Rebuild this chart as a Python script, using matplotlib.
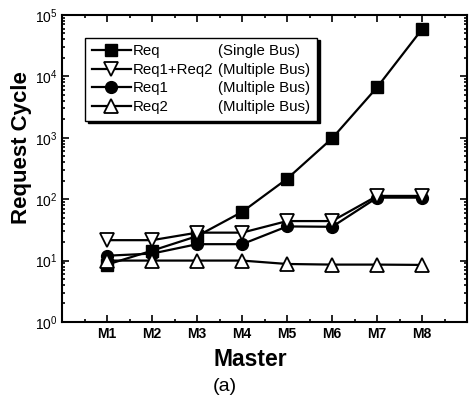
#!/usr/bin/env python3
# request cycle vs master, single bus vs multiple bus

import matplotlib
matplotlib.use("Agg")
import matplotlib.pyplot as plt
from matplotlib.lines import Line2D
from matplotlib.ticker import LogLocator, MultipleLocator, NullFormatter

plt.rcParams['font.family'] = ['Liberation Sans', 'DejaVu Sans']
plt.rcParams['mathtext.default'] = 'regular'

masters = ["M1", "M2", "M3", "M4", "M5", "M6", "M7", "M8"]
req_single = [8.6, 14.5, 25, 62, 215, 980, 6650, 59000]
req1_req2 = [21.5, 21.5, 28.5, 28.5, 44, 44, 113, 113]
req1 = [12, 13, 18.5, 18.5, 36, 35.5, 106, 106]
req2 = [10, 10, 10, 10, 8.8, 8.6, 8.6, 8.5]

names = ["Req", "Req1+Req2", "Req1", "Req2"]
buses = ["(Single Bus)", "(Multiple Bus)", "(Multiple Bus)", "(Multiple Bus)"]

x = list(range(1, len(masters) + 1))

fig = plt.figure(figsize=(4.7, 4.05), dpi=100)
ax = fig.add_axes([0.132, 0.205, 0.862, 0.758])

h1, = ax.plot(x, req_single, 'k-', marker='s', ms=8.5, lw=1.6, zorder=3)
h3, = ax.plot(x, req1, 'k-', marker='o', ms=8.5, lw=1.6, zorder=4)
h2, = ax.plot(x, req1_req2, 'k-', marker='v', ms=10, mfc='white', mew=1.3, lw=1.6, zorder=5)
h4, = ax.plot(x, req2, 'k-', marker='^', ms=10, mfc='white', mew=1.3, lw=1.6, zorder=6)

ax.set_yscale('log')
ax.set_ylim(1, 1e5)
ax.set_xlim(0, 9)
ax.set_xticks(x)
ax.set_xticklabels(masters, fontweight='bold', fontsize=10)
ax.xaxis.set_minor_locator(MultipleLocator(0.5))
ax.yaxis.set_major_locator(LogLocator(base=10))
ax.yaxis.set_minor_locator(LogLocator(base=10, subs=range(2, 10)))
ax.yaxis.set_minor_formatter(NullFormatter())
ax.tick_params(which='both', direction='in', top=True, right=True, width=1.2)
ax.tick_params(which='major', length=5, labelsize=10)
ax.tick_params(which='minor', length=2.5)
for s in ax.spines.values():
    s.set_linewidth(1.5)

ax.set_xlabel("Master", fontsize=16.5, fontweight='bold', labelpad=1)
ax.xaxis.set_label_coords(0.465, -0.085)
ax.set_ylabel("Request Cycle", fontsize=16, fontweight='bold', labelpad=6)
ax.yaxis.set_label_coords(-0.074, 0.567)

blank = Line2D([], [], ls='none')
leg = ax.legend([h1, h2, h3, h4, blank, blank, blank, blank],
                names + buses, ncol=2, loc='upper left',
                bbox_to_anchor=(0.057, 0.926), borderaxespad=0,
                fontsize=10.8, handlelength=2.6, handletextpad=0.1,
                columnspacing=-2.35, labelspacing=0.3, borderpad=0.45,
                fancybox=False, edgecolor='black',
                shadow={'color': 'black', 'alpha': 1})
leg.get_frame().set_linewidth(1.0)

fig.text(0.478, 0.035, "(a)", fontsize=14, ha='center')

plt.savefig('out.png', dpi=100)
